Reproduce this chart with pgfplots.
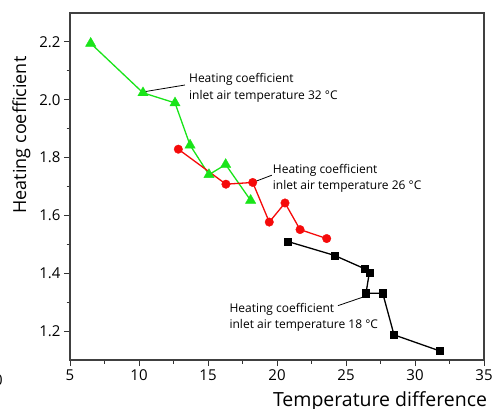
\documentclass[border=0pt]{standalone}
\usepackage{fontspec}
\setmainfont{Open Sans}
\usepackage{pgfplots}
\pgfplotsset{compat=1.18}
\definecolor{lgreen}{RGB}{25,228,25}
\definecolor{lred}{RGB}{245,10,10}
\pgfplotstableread{
x y
6.5 2.195
10.29 2.024
12.61 1.989
13.7 1.843
15.07 1.741
16.28 1.776
18.09 1.652
}\greendata
\pgfplotstableread{
x y
12.85 1.829
16.3 1.708
18.24 1.714
19.44 1.577
20.58 1.643
21.67 1.551
23.6 1.520
}\reddata
\pgfplotstableread{
x y
20.77 1.510
24.15 1.462
26.33 1.416
26.69 1.402
26.45 1.331
27.66 1.331
28.48 1.187
31.76 1.132
}\blackdata
\begin{document}
\begin{tikzpicture}
\begin{axis}[
 at={(70pt,48pt)}, anchor=south west,
 scale only axis, width=414pt, height=347pt,
 xmin=5, xmax=35, ymin=1.1, ymax=2.3,
 xtick={5,10,15,20,25,30,35}, minor x tick num=1,
 ytick={1.2,1.4,1.6,1.8,2.0,2.2}, minor y tick num=1,
 tick pos=left, tick align=outside,
 major tick length=6pt, minor tick length=3.5pt,
 axis line style={black!75, line width=1.1pt},
 every tick/.style={black!80, line width=0.9pt},
 /pgf/number format/assume math mode=true,
 tick label style={font=\fontsize{15}{18}\selectfont},
 yticklabel={\pgfmathprintnumber[fixed,fixed zerofill,precision=1]{\tick}},
 clip=false,
]
\draw[black, line width=0.8pt] (axis cs:10.29,2.027) -- (axis cs:13.33,2.051);
\draw[black, line width=0.8pt] (axis cs:18.24,1.714) -- (axis cs:19.62,1.739);
\draw[black, line width=0.8pt] (axis cs:24.42,1.288) -- (axis cs:26.38,1.320);
\addplot[lgreen, line width=1.3pt, mark=triangle*, mark size=6pt, mark options={solid, fill=lgreen, draw=lgreen, line width=0.3pt}] table[x=x,y=y] {\greendata};
\addplot[lred, line width=1.3pt, mark=*, mark size=4.3pt, mark options={solid, fill=lred, draw=lred, line width=0.3pt}] table[x=x,y=y] {\reddata};
\addplot[black, line width=1.3pt, mark=square*, mark size=3.6pt, mark options={solid, fill=black, line width=0.3pt}] table[x=x,y=y] {\blackdata};
\node[anchor=base west, font=\fontsize{12}{15}\selectfont, inner sep=0pt] at (axis cs:13.62,2.058) {Heating coefficient};
\node[anchor=base west, font=\fontsize{12}{15}\selectfont, inner sep=0pt] at (axis cs:13.62,2.002) {inlet air temperature 32 °C};
\node[anchor=base west, font=\fontsize{12}{15}\selectfont, inner sep=0pt] at (axis cs:19.69,1.745) {Heating coefficient};
\node[anchor=base west, font=\fontsize{12}{15}\selectfont, inner sep=0pt] at (axis cs:19.69,1.689) {inlet air temperature 26 °C};
\node[anchor=base west, font=\fontsize{12}{15}\selectfont, inner sep=0pt] at (axis cs:16.55,1.265) {Heating coefficient};
\node[anchor=base west, font=\fontsize{12}{15}\selectfont, inner sep=0pt] at (axis cs:16.55,1.2076) {inlet air temperature 18 °C};
\end{axis}
\node[rotate=90, anchor=base, font=\fontsize{18}{21}\selectfont, inner sep=0pt] at (26pt,273pt) {Heating coefficient};
\node[anchor=base, font=\fontsize{19.5}{23}\selectfont, inner sep=0pt] at (380pt,1.5pt) {Temperature difference};
\node[anchor=base east, font=\fontsize{15}{18}\selectfont, inner sep=0pt] at (3pt,23pt) {0};
\pgfresetboundingbox
\path[use as bounding box] (0pt,0pt) rectangle (497pt,408pt);
\end{tikzpicture}
\end{document}
